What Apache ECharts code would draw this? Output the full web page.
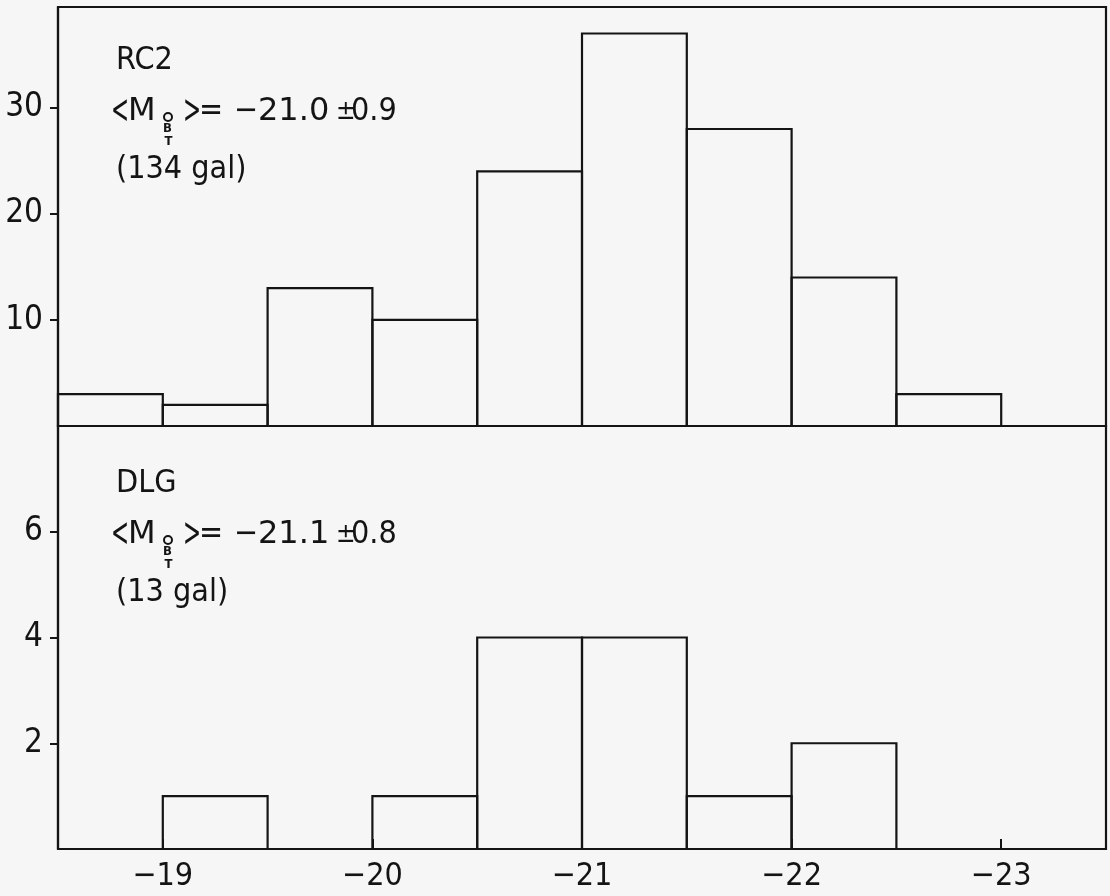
<!DOCTYPE html>
<html><head><meta charset="utf-8">
<script src="https://cdn.jsdelivr.net/npm/echarts@6/dist/echarts.min.js"></script>
<style>html,body{margin:0;padding:0;background:#f6f6f6}#c{width:1110px;height:896px}</style>
</head><body><div id="c"></div>
<script>
// Bin edges (absolute magnitude M_BT°), 0.5 mag bins
const binEdges = [-18.5, -19, -19.5, -20, -20.5, -21, -21.5, -22, -22.5, -23];
// RC2 sample counts per bin (134 galaxies)
const rc2Counts = [3, 2, 13, 10, 24, 37, 28, 14, 3];
// DLG sample counts per bin (13 galaxies)
const dlgCounts = [0, 1, 0, 1, 4, 4, 1, 2, 0];
const xTicks = [-19, -20, -21, -22, -23];
const rc2YTicks = [10, 20, 30];
const dlgYTicks = [2, 4, 6];

const INK = '#141414';
const FONT = '"DejaVu Sans Condensed", "DejaVu Sans", sans-serif';
const FONT_W = '"DejaVu Sans", sans-serif';

function binsData(counts) {
  return counts.map((c, i) => [binEdges[i], binEdges[i + 1], c]);
}
function renderBar(params, api) {
  const lo = api.value(0), hi = api.value(1), c = api.value(2);
  if (!c) return null;
  const p1 = api.coord([lo, c]);
  const p2 = api.coord([hi, 0]);
  return {
    type: 'rect',
    shape: { x: Math.min(p1[0], p2[0]), y: p1[1], width: Math.abs(p2[0] - p1[0]), height: p2[1] - p1[1] },
    style: { fill: 'none', stroke: INK, lineWidth: 2.2 }
  };
}
function fmtMag(v) { return '\u2212' + Math.abs(v); }

const xBase = {
  type: 'value', min: -23.5, max: -18.5, inverse: true,
  axisLine: { show: true, lineStyle: { color: INK, width: 2.2 } },
  splitLine: { show: false }
};
const yBase = {
  type: 'value', min: 0,
  axisLine: { show: true, lineStyle: { color: INK, width: 2.2 } },
  splitLine: { show: false },
  axisTick: { show: true, inside: false, length: 8, lineStyle: { color: INK, width: 2 } },
  axisLabel: { color: INK, fontSize: 33, fontFamily: FONT, margin: 15 }
};

function txt(text, x, y, font, extra) {
  return Object.assign({ type: 'text', style: {
    text: text, x: x, y: y, font: font, fill: INK,
    textVerticalAlign: 'middle', verticalAlign: 'middle', textAlign: 'left', align: 'left'
  } }, extra || {});
}
function annotation(y0, name, intPart, errPart, count) {
  const big = '32px ' + FONT;
  const wide = '32px ' + FONT_W;
  const sm = 'bold 13px ' + FONT;
  const y1 = y0 + 52;
  return [
    txt(name, 116, y0 + 1, big),
    txt('<', 0, 0, big, { x: 111, y: y1, scaleX: 0.75, scaleY: 1.3 }),
    txt('M', 128, y1, wide),
    { type: 'circle', shape: { cx: 168, cy: y1 + 5, r: 4 }, style: { fill: 'none', stroke: INK, lineWidth: 2 } },
    txt('B', 163, y1 + 17, sm),
    txt('T', 164.5, y1 + 30, sm),
    txt('>', 0, 0, big, { x: 183, y: y1, scaleX: 0.75, scaleY: 1.3 }),
    txt('=', 199, y1, big),
    txt('\u2212', 234, y1, big),
    txt(intPart, 258, y1, wide),
    txt('±', 336, y1, '26px ' + FONT),
    txt(errPart, 351, y1, big),
    txt('(' + count + ' gal)', 116, y0 + 110, big)
  ];
}

const chart = echarts.init(document.getElementById('c'), null, { renderer: 'canvas' });
chart.setOption({
  backgroundColor: '#f6f6f6',
  animation: false,
  grid: [
    { left: 58, top: 7, width: 1048, height: 419, show: true, borderColor: INK, borderWidth: 2.2, backgroundColor: 'transparent' },
    { left: 58, top: 426, width: 1048, height: 423, show: true, borderColor: INK, borderWidth: 2.2, backgroundColor: 'transparent' }
  ],
  xAxis: [
    Object.assign({}, xBase, { gridIndex: 0, axisTick: { show: false }, axisLabel: { show: false } }),
    Object.assign({}, xBase, {
      gridIndex: 1,
      axisTick: { show: true, inside: true, length: 10, customValues: xTicks, lineStyle: { color: INK, width: 2 } },
      axisLabel: { show: true, customValues: xTicks, formatter: fmtMag, color: INK, fontSize: 32, fontFamily: FONT, margin: 12 }
    })
  ],
  yAxis: [
    Object.assign({}, yBase, { gridIndex: 0, max: 39.5,
      axisTick: Object.assign({}, yBase.axisTick, { customValues: rc2YTicks }),
      axisLabel: Object.assign({}, yBase.axisLabel, { customValues: rc2YTicks }) }),
    Object.assign({}, yBase, { gridIndex: 1, max: 8,
      axisTick: Object.assign({}, yBase.axisTick, { customValues: dlgYTicks }),
      axisLabel: Object.assign({}, yBase.axisLabel, { customValues: dlgYTicks }) })
  ],
  series: [
    { type: 'custom', xAxisIndex: 0, yAxisIndex: 0, renderItem: renderBar, encode: { x: [0, 1], y: 2 }, data: binsData(rc2Counts), silent: true },
    { type: 'custom', xAxisIndex: 1, yAxisIndex: 1, renderItem: renderBar, encode: { x: [0, 1], y: 2 }, data: binsData(dlgCounts), silent: true }
  ],
  graphic: [].concat(
    annotation(60, 'RC2', '21.0', '0.9', 134),
    annotation(483, 'DLG', '21.1', '0.8', 13)
  )
});
</script>
</body></html>
